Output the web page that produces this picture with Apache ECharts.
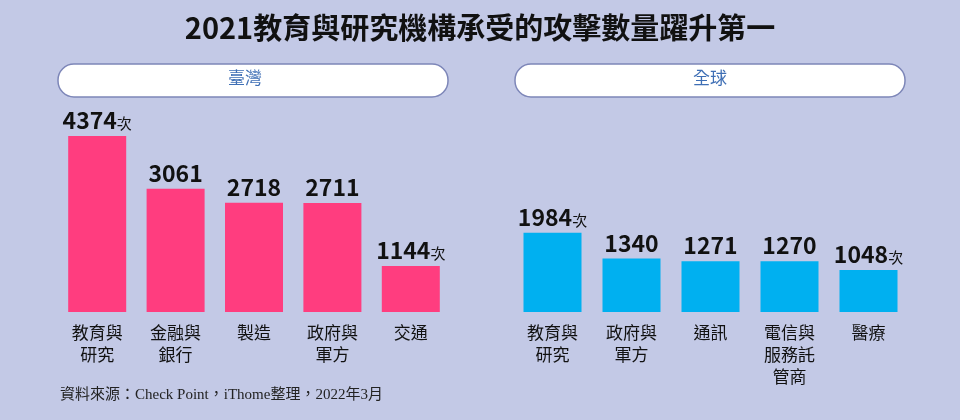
<!DOCTYPE html>
<html><head><meta charset="utf-8">
<script src="https://cdn.jsdelivr.net/npm/echarts@6/dist/echarts.min.js"></script>
<style>html,body{margin:0;padding:0;background:#c3c9e6}#c{width:960px;height:420px}</style>
</head><body><div id="c"></div>
<script>
const twCategories = ['教育與\n研究','金融與\n銀行','製造','政府與\n軍方','交通'];
const twValues = [4374, 3061, 2718, 2711, 1144];
const twUnit = [true, false, false, false, true];
const glCategories = ['教育與\n研究','政府與\n軍方','通訊','電信與\n服務託\n管商','醫療'];
const glValues = [1984, 1340, 1271, 1270, 1048];
const glUnit = [true, false, false, false, true];

const font = '"Noto Sans CJK TC", "Noto Sans", sans-serif';
function mkData(vals, units){ return vals.map((v,i)=>({value:v, unit:units[i]})); }
function labelCfg(){
  return {show:true, position:'top', distance:4,
    formatter:p=> '{n|'+p.value+'}' + (p.data.unit?'{u|次}':''),
    rich:{n:{fontSize:23,fontWeight:'bold',color:'#111',fontFamily:font},
          u:{fontSize:15,color:'#111',fontFamily:font,padding:[6,0,0,0]}}};
}
const xAxisBase = {type:'category', axisLine:{show:false}, axisTick:{show:false},
  axisLabel:{fontSize:17, color:'#111', fontFamily:font, lineHeight:22, margin:10, interval:0}};
const yAxisBase = {type:'value', min:0, show:false, splitLine:{show:false}};
const chart = echarts.init(document.getElementById('c'));
chart.setOption({
  backgroundColor:'#c3c9e6',
  textStyle:{fontFamily:font},
  title:{text:'2021教育與研究機構承受的攻擊數量躍升第一', left:'center', top:8,
    textStyle:{fontSize:29, fontWeight:'bold', color:'#111', fontFamily:font}},
  graphic:[
    {type:'rect', shape:{x:58,y:64,width:390,height:33,r:16}, style:{fill:'#fff',stroke:'#7d86b8',lineWidth:1.5}},
    {type:'text', left:228, top:69, style:{text:'臺灣', fontSize:17, fill:'#3f6fb5', fontFamily:font}},
    {type:'rect', shape:{x:515,y:64,width:390,height:33,r:16}, style:{fill:'#fff',stroke:'#7d86b8',lineWidth:1.5}},
    {type:'text', left:693, top:69, style:{text:'全球', fontSize:17, fill:'#3f6fb5', fontFamily:font}},
    {type:'text', left:60, top:388, style:{text:'資料來源：Check Point，iThome整理，2022年3月', fontSize:15, fill:'#222', fontFamily:'"Liberation Serif","Noto Sans CJK TC",serif'}}
  ],
  grid:[{left:58, width:392, top:100, bottom:108},{left:513, width:395, top:100, bottom:108}],
  xAxis:[Object.assign({gridIndex:0, data:twCategories}, xAxisBase),
         Object.assign({gridIndex:1, data:glCategories}, xAxisBase)],
  yAxis:[Object.assign({gridIndex:0, max:5270}, yAxisBase),
         Object.assign({gridIndex:1, max:5300}, yAxisBase)],
  series:[
    {type:'bar', xAxisIndex:0, yAxisIndex:0, data:mkData(twValues,twUnit), barWidth:58,
      itemStyle:{color:'#ff3d7f'}, label:labelCfg()},
    {type:'bar', xAxisIndex:1, yAxisIndex:1, data:mkData(glValues,glUnit), barWidth:58,
      itemStyle:{color:'#00b0f0'}, label:labelCfg()}
  ]
});
</script></body></html>
